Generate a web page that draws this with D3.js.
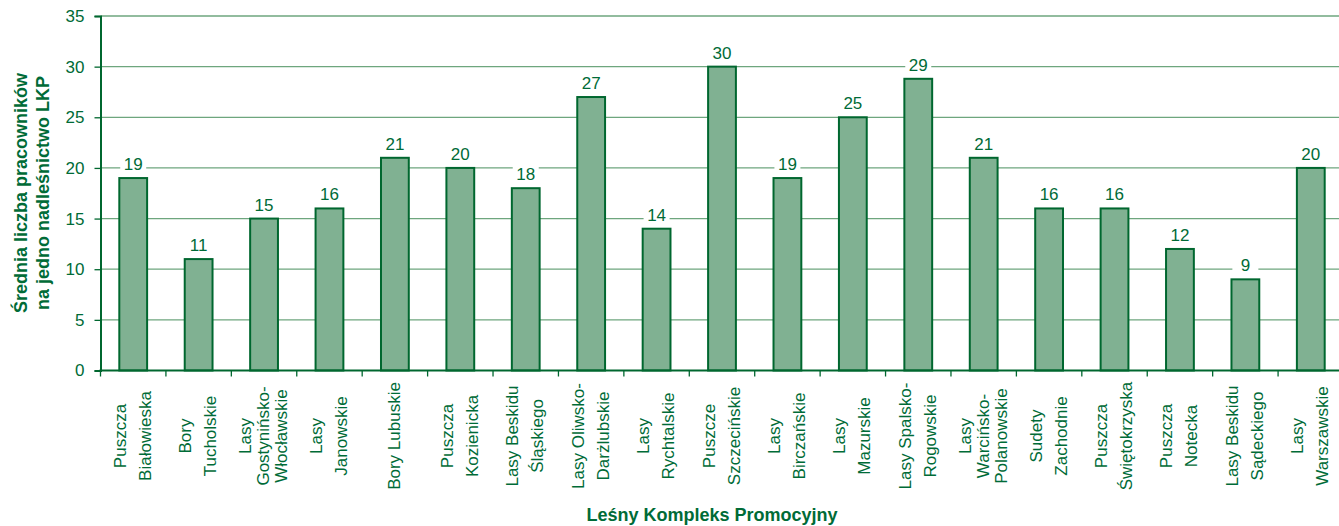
<!DOCTYPE html>
<html><head><meta charset="utf-8">
<script src="https://cdn.jsdelivr.net/npm/d3@7"></script>
<style>
html,body{margin:0;padding:0;background:#fff;}
svg{display:block;font-family:"Liberation Sans",Arial,sans-serif;}
</style></head>
<body>
<svg id="c" width="1339" height="526"></svg>
<script>
const categories = [
  ["Puszcza","Białowieska"],
  ["Bory","Tucholskie"],
  ["Lasy","Gostynińsko-","Włocławskie"],
  ["Lasy","Janowskie"],
  ["Bory Lubuskie"],
  ["Puszcza","Kozienicka"],
  ["Lasy Beskidu","Śląskiego"],
  ["Lasy Oliwsko-","Darżlubskie"],
  ["Lasy","Rychtalskie"],
  ["Puszcze","Szczecińskie"],
  ["Lasy","Birczańskie"],
  ["Lasy","Mazurskie"],
  ["Lasy Spalsko-","Rogowskie"],
  ["Lasy","Warcińsko-","Polanowskie"],
  ["Sudety","Zachodnie"],
  ["Puszcza","Świętokrzyska"],
  ["Puszcza","Notecka"],
  ["Lasy Beskidu","Sądeckiego"],
  ["Lasy","Warszawskie"]
];
const values = [19, 11, 15, 16, 21, 20, 18, 27, 14, 30, 19, 25, 28.8, 21, 16, 16, 12, 9, 20];
const yTicks = [0, 5, 10, 15, 20, 25, 30, 35];
const yTitle = ["Średnia liczba pracowników", "na jedno nadleśnictwo LKP"];
const xTitle = "Leśny Kompleks Promocyjny";

(function(){
const TXT = "#006b37", BAR = "#80b192", STROKE = "#00672f", GRID = "#6ea67e";
const svg = d3.select("#c");
const mLeft = 100.5, mRight = 1343.5, mTop = 16, mBottom = 370.5;

const x = d3.scaleBand().domain(d3.range(values.length)).range([mLeft, mRight]).paddingInner(0.575).paddingOuter(0.2875);
const y = d3.scaleLinear().domain([0, 35]).range([mBottom, mTop]);

svg.append("g").selectAll("line").data(yTicks.filter(d => d > 0)).join("line")
  .attr("x1", mLeft).attr("x2", 1339).attr("y1", d => y(d)).attr("y2", d => y(d))
  .attr("stroke", GRID).attr("stroke-width", 1.3);

const ya = svg.append("g").attr("transform", `translate(${mLeft},0)`)
  .call(d3.axisLeft(y).tickValues(yTicks).tickSize(6).tickPadding(10));
ya.select(".domain").attr("stroke", STROKE).attr("stroke-width", 2);
ya.selectAll(".tick line").attr("stroke", STROKE).attr("stroke-width", 1.3);
ya.selectAll(".tick text").attr("fill", TXT).attr("font-size", 17).attr("font-family", "Liberation Sans, Arial, sans-serif");

svg.append("g").selectAll("rect").data(values).join("rect")
  .attr("x", (d, i) => x(i)).attr("width", x.bandwidth())
  .attr("y", d => y(d)).attr("height", d => y(0) - y(d))
  .attr("fill", BAR).attr("stroke", STROKE).attr("stroke-width", 2);

const xa = svg.append("g").attr("transform", `translate(0,${mBottom})`);
xa.append("line").attr("x1", mLeft - 1).attr("x2", 1339).attr("stroke", STROKE).attr("stroke-width", 2.2);
const step = x.step();
xa.selectAll("line.t").data(d3.range(values.length + 1)).join("line").attr("class", "t")
  .attr("x1", i => mLeft + i * step).attr("x2", i => mLeft + i * step)
  .attr("y1", 0).attr("y2", 6).attr("stroke", STROKE).attr("stroke-width", 1.3);

const fmt = d3.format(".0f");
const lab = svg.append("g").selectAll("g").data(values).join("g")
  .attr("transform", (d, i) => `translate(${x(i) + x.bandwidth() / 2},${y(d) - 8})`);
lab.append("rect").attr("x", -13).attr("y", -15).attr("width", 26).attr("height", 18).attr("fill", "#fff");
lab.append("text").attr("text-anchor", "middle").attr("fill", TXT).attr("font-size", 17).text(d => fmt(d));

const catG = svg.append("g").selectAll("g").data(categories).join("g")
  .attr("transform", (d, i) => `translate(${x(i) + x.bandwidth() / 2},436) rotate(-90)`);
catG.each(function(lines) {
  const g = d3.select(this);
  const sp = lines.length === 3 ? 18 : 25;
  const n = lines.length;
  lines.forEach((t, k) => {
    g.append("text").attr("text-anchor", "middle").attr("fill", TXT).attr("font-size", 17)
      .attr("x", 0).attr("y", (k - (n - 1) / 2) * sp + 5).text(t);
  });
});

const yt = svg.append("g").attr("transform", "translate(0,193) rotate(-90)");
yTitle.forEach((t, k) => {
  yt.append("text").attr("text-anchor", "middle").attr("fill", TXT).attr("font-size", 18)
    .attr("font-weight", "bold").attr("x", 0).attr("y", 27 + k * 22).text(t);
});

svg.append("text").attr("x", 712).attr("y", 521).attr("text-anchor", "middle")
  .attr("fill", TXT).attr("font-size", 18).attr("font-weight", "bold").text(xTitle);
})();
</script>
</body></html>
